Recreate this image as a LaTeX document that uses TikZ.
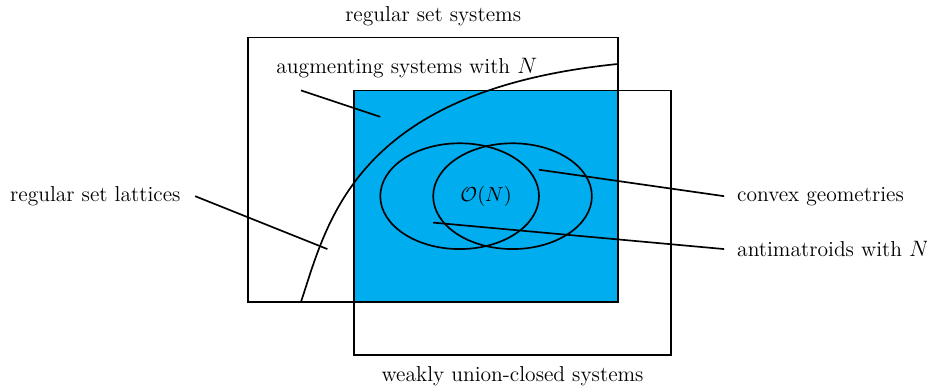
\documentclass[tikz,border=0pt]{standalone}
\usetikzlibrary{positioning}
\definecolor{regionblue}{RGB}{0,174,239}
\tikzstyle{region} = [draw, line width=0.9pt]
\tikzstyle{setname} = [inner sep=2pt, font=\fontsize{11.6}{14}\selectfont]
\tikzstyle{leader} = [draw, line width=0.9pt]

\begin{document}
\begin{tikzpicture}
    \useasboundingbox (-4.69,-1.645) rectangle (12.836,5.709);
    % Draw regions
    \fill [regionblue] (2,0) rectangle (7,4);
    \draw [region] (0,0) rectangle (7,5);
    \draw [region] (2,-1) rectangle (8,4);
    \draw [region] (4,2) ellipse (1.5 and 1);
    \draw [region] (5,2) ellipse (1.5 and 1);
    \draw [region] (1,0) .. controls (1.5,1.5) and (2,4) .. (7,4.5);

    % Place nodes
    \node [setname] (rss) at (3.5,5.4) {regular set systems};
    \node [setname] (wucs) at (5,-1.4) {weakly union-closed systems};
    \node [setname] (asn) at (3,4.42) {augmenting systems with $N$};
    \node [setname, anchor=east] (rsl) at (-1.2,2) {regular set lattices};
    \node [setname, anchor=west] (cg) at (9.17,2) {convex geometries};
    \node [setname, anchor=west] (amn) at (9.17,1) {antimatroids with $N$};
    \node [font=\fontsize{11.3}{13.6}\selectfont] (on) at (4.5,2) {$\mathcal{O}(N)$};

    % Leader ends
    \coordinate (asn0) at (1,4);
    \coordinate (asn1) at (2.5,3.5);
    \coordinate (rsl0) at (-1,2);
    \coordinate (rsl1) at (1.5,1);
    \coordinate (cg0) at (9,2);
    \coordinate (cg1) at (5.5,2.5);
    \coordinate (amn0) at (9,1);
    \coordinate (amn1) at (3.5,1.5);

    % Draw edges
    \path [leader] (asn0) -- (asn1);
    \path [leader] (rsl0) -- (rsl1);
    \path [leader] (cg0) -- (cg1);
    \path [leader] (amn0) -- (amn1);
\end{tikzpicture}
\end{document}
